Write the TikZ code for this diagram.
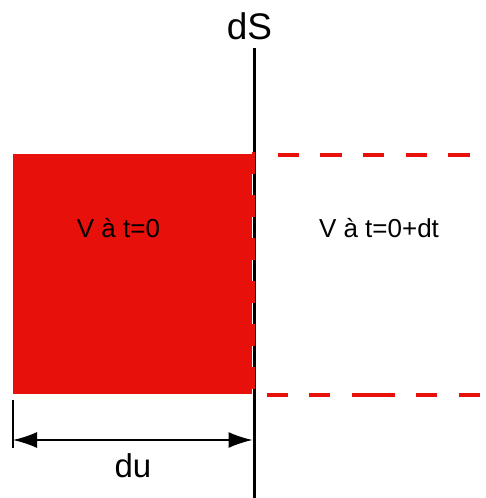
\documentclass[tikz,border=0pt]{standalone}
\usepackage{fontspec}
\setmainfont{Liberation Sans}
\usetikzlibrary{arrows.meta}
\definecolor{rd}{RGB}{232,16,10}
\tikzset{
  reddash/.style={draw=rd, line width=4.5},
  dimline/.style={line width=1.6, {Latex[length=24,width=16]}-{Latex[length=24,width=16]}},
  lbl/.style={inner sep=0, font=\fontsize{26}{30}\selectfont}
}
\begin{document}
\begin{tikzpicture}[x=1pt,y=-1pt]
\useasboundingbox (0,0) rectangle (486,498);
% red volume
\fill[rd] (13,154) rectangle (252,394);
% surface dS
\coordinate (stop) at (254,48);
\coordinate (sbot) at (254,498);
\draw[line width=3] (stop) -- (sbot);
\draw[rd, line width=3, dash pattern=on 21.5 off 21.5] (253.5,152) -- (253.5,394);
% top dashed line
\foreach \a/\b in {278/299,320/342,363/384,406/427,448/470}
  \draw[reddash] (\a,155) -- (\b,155);
% bottom dashed line
\foreach \a/\b in {267/288,309/330,352/395,416/437,459/480}
  \draw[reddash] (\a,395) -- (\b,395);
% labels
\node[inner sep=0, font=\fontsize{37}{40}\selectfont] (dS) at (249.5,26) {dS};
\node[lbl] (v0) at (118.5,228) {V à t=0};
\node[lbl] (v1) at (379,228) {V à t=0+dt};
% dimension
\coordinate (tka) at (13,400);
\coordinate (tkb) at (13,448);
\draw[line width=1.6] (tka) -- (tkb);
\coordinate (da) at (13,440);
\coordinate (db) at (252.5,440);
\draw[dimline] (da) -- (db);
\node[inner sep=0, font=\fontsize{33}{36}\selectfont] (du) at (133,466) {du};
\end{tikzpicture}
\end{document}
